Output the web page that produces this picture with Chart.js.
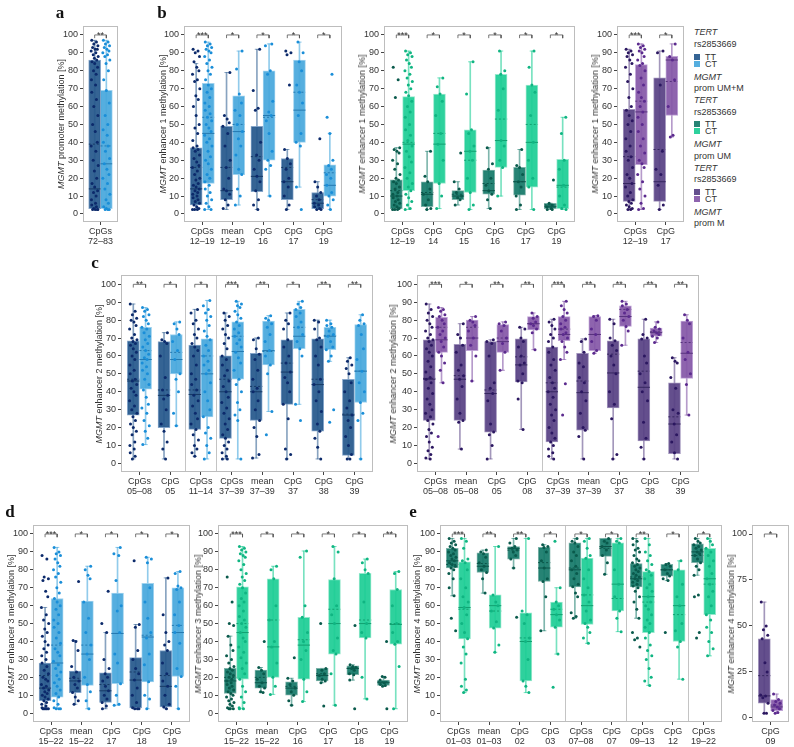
<!DOCTYPE html>
<html>
<head>
<meta charset="utf-8">
<script src="https://cdn.jsdelivr.net/npm/chart.js@4"></script>
<style>
body { margin: 0; background: #fff; font-family: "Liberation Sans", Arial, sans-serif; color: #333; }
#fig { position: relative; width: 794px; height: 747px; overflow: hidden; }
#fig canvas { position: absolute; }
.letter { position: absolute; font: bold 17px "Liberation Serif", serif; color: #111; transform: translate(-50%, -50%); }
.ytitle { position: absolute; font-size: 9px; white-space: nowrap; color: #333; transform: translate(-50%, -50%) rotate(-90deg); }
.leg { position: absolute; left: 694px; font-size: 9px; line-height: 12px; white-space: nowrap; color: #333; }
.sw { display: inline-block; width: 6px; height: 6px; margin-right: 5px; }
</style>
</head>
<body>
<div id="fig"></div>
<script>
// box rows are [min, q1, median, mean, q3, max]

//PANEL A
const aCats = [['CpGs', '72–83']];
const aStars = ['**'];
const aTT = [[2.5, 3, 14, 39, 86, 97]];
const aCT = [[2.5, 3, 28, 38, 69, 97]];
const aTTpts = [[97, 96, 95, 94, 93, 92, 92, 91, 90, 89, 88, 87, 86, 85, 84, 82, 80, 78, 75, 72, 68, 64, 60, 55, 50, 46, 40, 38, 35, 30, 27, 24, 20, 17, 15, 13, 12, 10, 8, 6, 5, 4, 3, 2.5, 2.5, 2.5, 2.5]];
const aCTpts = [[97, 96, 95, 94, 93, 92, 91, 90, 89, 88, 86, 84, 80, 75, 69, 62, 55, 50, 47, 44, 40, 38, 35, 31, 28, 25, 22, 20, 17, 14, 11, 8, 6, 4, 3, 2.5, 2.5, 2.5]];

//PANEL B1 (prom UM+M)
const b1Cats = [['CpGs', '12–19'], ['mean', '12–19'], ['CpG', '16'], ['CpG', '17'], ['CpG', '19']];
const b1Stars = ['***', '*', '*', '*', '*'];
const b1TT = [[2.5, 5, 14, 26, 37, 84], [2.5, 8, 13, 26, 49, 79], [2.5, 12.5, 21, 32, 49, 92], [2.5, 8, 18, 26, 31, 36], [2.5, 3, 6, 8, 12, 18]];
const b1CT = [[2.5, 17, 45, 54, 73, 96], [5, 22, 46, 50, 66, 91], [10, 30, 55, 54, 80, 95], [15, 40, 58, 68, 86, 96], [2.5, 10, 16, 23, 27.5, 45]];
const b1TTpts = [
  [92, 91, 90, 88, 85, 82, 80, 78, 75, 74, 70, 66, 64, 60, 55, 50, 48, 45, 41, 38, 37, 36, 35, 33, 31, 29, 27, 26, 24, 22, 20, 19, 17, 16, 15, 14, 13, 12, 11, 10, 9, 8, 7, 6, 5, 4, 3, 2.5, 2.5, 2.5],
  [79, 55, 53, 51, 49, 45, 38, 30, 26, 20, 14, 13, 11, 8, 5, 3],
  [92, 69, 59, 58, 40, 33, 30, 25, 21, 18, 13, 8, 5, 2.5],
  [91, 90, 89, 72, 36, 31, 28, 25, 20, 18, 15, 10, 5, 2.5],
  [42, 18, 15, 12, 10, 8, 6, 5, 4, 3, 2.5, 2.5]
];
const b1CTpts = [
  [96, 95, 94, 93, 92, 91, 90, 88, 86, 84, 82, 80, 78, 75, 72, 70, 68, 65, 62, 60, 58, 56, 54, 52, 50, 48, 46, 44, 42, 40, 38, 35, 32, 30, 28, 25, 22, 20, 18, 16, 14, 12, 10, 8, 6, 4, 2.5, 2.5],
  [91, 81, 67, 62, 58, 55, 50, 46, 42, 38, 33, 25, 22, 14, 10, 5],
  [95, 94, 80, 78, 63, 57, 55, 52, 45, 35, 30, 27, 25, 10],
  [96, 90, 85, 80, 72, 68, 62, 55, 45, 40, 38, 15, 2.5],
  [78, 54, 45, 30, 27, 25, 22, 20, 16, 12, 10, 8, 5, 2.5]
];

//PANEL B2 (prom UM)
const b2Cats = [['CpGs', '12–19'], ['CpG', '14'], ['CpG', '15'], ['CpG', '16'], ['CpG', '17'], ['CpG', '19']];
const b2Stars = ['***', '*', '*', '*', '*', '*'];
const b2TT = [[2.5, 3, 10, 13, 19, 37], [2.5, 4, 11, 12, 18, 35], [5, 8, 10, 11, 13, 18], [3, 11, 13, 17, 24.5, 37], [2.5, 10.5, 18, 18, 26, 36], [2.5, 3, 4, 5, 6, 6]];
const b2CT = [[2.5, 13, 39, 40, 65.5, 91], [3, 17, 39, 45, 67, 76], [2.5, 12, 35, 30, 47, 85], [10, 26, 41, 53, 78, 91], [2.5, 15, 40, 50, 72, 91], [2.5, 3, 16, 15, 30.5, 54]];
const b2TTpts = [
  [82, 75, 65, 37, 36, 35, 34, 30, 28, 25, 22, 20, 19, 18, 17, 15, 14, 12, 11, 10, 9, 8, 7, 6, 5, 4, 3, 2.5, 2.5, 2.5],
  [35, 21, 18, 14, 11, 8, 5, 3, 2.5],
  [34, 18, 14, 12, 10, 9, 8, 5],
  [37, 28, 25, 20, 16, 13, 11, 8, 3],
  [36, 27, 26, 22, 18, 15, 10, 5, 2.5],
  [19, 6, 5, 4, 3, 2.5, 2.5]
];
const b2CTpts = [
  [91, 90, 89, 88, 86, 84, 82, 80, 78, 76, 74, 72, 70, 68, 66, 63, 60, 57, 54, 50, 47, 44, 41, 38, 35, 32, 29, 26, 23, 20, 17, 15, 13, 11, 9, 7, 5, 3, 2.5],
  [76, 71, 67, 63, 55, 45, 39, 30, 17, 10, 3],
  [85, 67, 47, 45, 38, 35, 30, 20, 12, 5, 2.5],
  [91, 80, 78, 70, 58, 41, 38, 30, 26, 10],
  [91, 82, 72, 68, 55, 40, 30, 20, 15, 2.5],
  [54, 45, 30, 25, 16, 10, 5, 3, 2.5]
];

//PANEL B3 (prom M)
const b3Cats = [['CpGs', '12–19'], ['CpG', '17']];
const b3Stars = ['***', '*'];
const b3TT = [[2.5, 7, 17, 32, 58.5, 92], [2.5, 7, 18, 36, 76, 91]];
const b3CT = [[2.5, 27.5, 57, 63, 83.5, 95], [43, 55, 86, 74, 88, 95]];
const b3TTpts = [
  [92, 91, 90, 89, 88, 86, 84, 82, 78, 74, 70, 65, 60, 58, 55, 52, 50, 46, 42, 38, 35, 32, 30, 26, 22, 20, 17, 15, 12, 10, 8, 7, 6, 5, 4, 3, 2.5, 2.5],
  [91, 90, 72, 35, 25, 22, 16, 5, 2.5]
];
const b3CTpts = [
  [95, 94, 93, 92, 91, 90, 88, 86, 84, 83, 80, 76, 72, 68, 65, 63, 60, 57, 54, 50, 46, 42, 38, 34, 30, 28, 26, 22, 18, 14, 10, 6, 3, 2.5],
  [95, 88, 86, 75, 60, 44, 43]
];

//PANEL C LEFT
const cLCats = [['CpGs', '05–08'], ['CpG', '05'], ['CpGs', '11–14'], ['CpGs', '37–39'], ['mean', '37–39'], ['CpG', '37'], ['CpG', '38'], ['CpG', '39']];
const cLSeps = [2.5, 3.5];
const cLStars = ['**', '*', '*', '***', '**', '*', '**', '**'];
const cLTT = [[2.5, 27, 46, 47, 68.5, 89], [2.5, 20, 38, 41, 68, 73], [4, 19, 38.5, 41, 66, 86], [2.5, 14, 40, 47, 60, 84], [3, 24, 40, 43, 61.5, 70], [2.5, 33, 51, 56, 69, 84], [2.5, 18, 44, 47, 69.5, 80], [2.5, 4.5, 27, 27.5, 47, 59]];
const cLCT = [[10.5, 41.5, 58, 63, 76, 87], [21, 50, 58, 62, 72, 79], [2.5, 26, 50, 60, 69.5, 91], [2.5, 47, 62.5, 71, 79, 90.5], [29, 55, 63, 62.5, 79.5, 82.5], [33, 64, 71, 76, 86, 90.5], [57, 63.5, 71, 71.5, 76, 80], [2.5, 34, 51.5, 51.5, 77.5, 83]];
const cLTTpts = [
  [89, 85, 83, 81, 80, 79, 77, 75, 72, 70, 69, 68, 67, 66, 64, 62, 60, 58, 55, 52, 50, 47, 46, 44, 42, 40, 38, 35, 32, 30, 28, 26, 24, 22, 20, 18, 16, 12, 10, 8, 6, 4, 2.5],
  [73, 69, 68, 67, 60, 48, 41, 38, 36, 30, 22, 18, 12, 8, 2.5],
  [86, 84, 80, 78, 75, 72, 70, 67, 65, 63, 60, 55, 50, 47, 44, 41, 38, 35, 32, 28, 25, 22, 19, 16, 13, 10, 8, 6, 4],
  [84, 82, 80, 77, 75, 72, 70, 67, 64, 60, 58, 55, 52, 49, 46, 43, 40, 37, 34, 31, 28, 25, 22, 19, 16, 14, 12, 10, 8, 6, 4, 2.5, 2.5],
  [70, 69, 64, 61, 58, 52, 47, 42, 40, 35, 30, 24, 20, 15, 5, 3],
  [84, 80, 78, 75, 69, 65, 60, 56, 51, 48, 45, 40, 33, 25, 8, 5, 2.5],
  [80, 79, 75, 70, 69, 65, 60, 55, 47, 44, 40, 35, 29, 22, 18, 14, 9, 2.5],
  [59, 57, 55, 53, 50, 45, 40, 35, 31, 27, 24, 20, 15, 10, 5, 2.5, 2.5]
];
const cLCTpts = [
  [87, 86, 85, 83, 82, 80, 78, 76, 75, 73, 71, 69, 67, 65, 63, 61, 59, 58, 56, 54, 52, 50, 47, 44, 41, 37, 33, 31, 28, 24, 21, 18, 14, 10.5],
  [79, 78, 75, 72, 68, 63, 58, 50, 47, 40, 28, 21],
  [91, 88, 86, 84, 82, 80, 77, 74, 71, 69, 66, 63, 60, 57, 55, 52, 50, 45, 40, 35, 30, 26, 20, 17, 14, 10, 6, 2.5],
  [90.5, 89, 88, 87, 85, 83, 81, 79, 77, 75, 73, 71, 69, 67, 65, 62, 59, 56, 52, 47, 44, 40, 34, 30, 27, 24, 2.5],
  [82.5, 81, 80, 78, 76, 72, 68, 63, 60, 55, 50, 29, 16],
  [90.5, 89, 87, 86, 84, 82, 79, 76, 72, 68, 64, 60, 33, 24],
  [80, 78, 77, 76, 74, 72, 71, 68, 65, 63.5, 60, 57, 30, 23],
  [83, 80, 78, 77, 72, 64, 58, 51.5, 45, 40, 34, 28, 24, 2.5]
];

//PANEL C RIGHT
const cRCats = [['CpGs', '05–08'], ['mean', '05–08'], ['CpG', '05'], ['CpG', '08'], ['CpGs', '37–39'], ['mean', '37–39'], ['CpG', '37'], ['CpG', '38'], ['CpG', '39']];
const cRSeps = [4.5];
const cRStars = ['***', '*', '**', '**', '***', '**', '**', '**', '**'];
const cRTT = [[2.5, 24, 47, 47.5, 69, 89], [8, 24, 47, 49, 66.5, 78], [2.5, 17.5, 39, 41, 68, 69], [19, 45.5, 55, 59.5, 69.5, 76], [2.5, 12, 40, 45, 65, 80.5], [2.5, 18.5, 39.5, 46, 61.5, 69.5], [2.5, 31, 50.5, 61, 68.5, 80.5], [2.5, 12.5, 42.5, 51.5, 69.5, 80.5], [2.5, 5.5, 22, 26, 45, 59]];
const cRCT = [[45, 62, 69, 76, 81.5, 87], [46, 63, 70, 76, 80, 82], [52, 62, 68, 70, 77.5, 79], [63.5, 74.5, 78, 78, 82, 84], [58, 68.5, 72, 75, 82, 90.5], [61.5, 63, 72, 72, 82, 82.5], [66, 76.5, 82, 86, 88, 90.5], [67.5, 71, 73, 73.5, 75.5, 79], [27, 47.5, 61.5, 67.5, 79.5, 83]];
const cRTTpts = [
  [89, 86, 84, 82, 80, 78, 76, 74, 72, 70, 69, 68, 66, 64, 62, 60, 57, 54, 51, 48, 47, 45, 42, 39, 36, 33, 30, 28, 26, 24, 22, 19, 17, 15, 12, 9, 7, 5, 3, 2.5],
  [78, 72, 70, 66, 62, 55, 52, 49, 47, 43, 36, 28, 24, 23, 8],
  [69, 68, 67, 60, 45, 42, 39, 35, 22, 17.5, 16, 10, 2.5],
  [76, 75, 70, 68, 65, 60, 56, 55, 50, 46, 45, 36, 19],
  [80.5, 79, 77, 75, 72, 70, 68, 65, 62, 58, 55, 52, 48, 45, 42, 40, 37, 33, 30, 27, 24, 20, 17, 14, 12, 10, 8, 6, 4, 2.5],
  [69.5, 68, 62, 56, 54, 48, 45, 40, 35, 28, 20, 18.5, 15, 2.5],
  [80.5, 78, 70, 68.5, 66, 63, 60, 55, 50, 40, 33, 25, 5, 2.5],
  [80.5, 72, 70, 69.5, 60, 56, 50, 45, 40, 35, 23, 14, 9, 2.5],
  [59, 57, 56, 48, 42, 30, 28, 22, 16, 12, 6, 2.5]
];
const cRCTpts = [
  [87, 86, 85, 83, 82, 80, 78, 76, 74, 72, 70, 68, 65, 62, 60, 56, 52, 45, 15],
  [82, 80, 79, 77, 74, 70, 66, 60, 46],
  [79, 78, 77, 74, 70, 67, 62, 52],
  [84, 82, 81, 79, 78, 77, 75, 73, 63.5],
  [90.5, 88, 86, 84, 82, 80, 78, 76, 75, 73, 72, 70, 68, 65, 62, 58, 44.5, 27],
  [82.5, 82, 80, 75, 72, 68, 63, 61.5],
  [90.5, 89, 88, 86, 84, 82, 80, 76.5, 74, 66],
  [79, 76, 75, 74, 73, 72, 71, 70, 67.5],
  [83, 80, 78, 70, 62, 58, 50, 44, 27]
];

//PANEL D LEFT
const dLCats = [['CpGs', '15–22'], ['mean', '15–22'], ['CpG', '17'], ['CpG', '18'], ['CpG', '19']];
const dLStars = ['***', '*', '*', '*', '*'];
const dLTT = [[2.5, 7, 14, 21, 28, 59], [5, 11.5, 18, 19.5, 23.5, 40.5], [2.5, 6, 12.5, 16, 22.5, 45], [2.5, 3, 18.5, 23, 31, 49.5], [2.5, 3.5, 15, 21, 35, 75.5]];
const dLCT = [[2.5, 9, 28, 38, 64, 92.5], [2.5, 15.5, 33, 38, 62.5, 82], [4.5, 16.5, 44.5, 44.5, 67, 92.5], [2.5, 17.5, 42.5, 43.5, 72.5, 87], [2.5, 20.5, 45, 49, 70, 79]];
const dLTTpts = [
  [88, 86, 76, 75, 74, 68, 65, 59, 55, 52, 50, 47, 45, 43, 40, 38, 36, 34, 32, 30, 28, 26, 24, 22, 20, 19, 18, 16, 15, 14, 13, 12, 11, 10, 9, 8, 7, 6, 5, 4, 3, 2.5, 2.5, 2.5, 2.5, 2.5],
  [73.5, 40.5, 40, 35, 26, 23, 20, 18, 16, 14, 11.5, 9, 7, 5],
  [68, 50, 45, 30, 25, 22, 20, 18, 15, 12.5, 10, 8, 6, 4, 2.5],
  [85, 49.5, 48, 35, 30, 25, 22, 18.5, 14, 10, 6, 3, 2.5, 2.5, 2.5],
  [75.5, 55, 45, 40, 38, 35, 28, 22, 18, 15, 10, 5, 3.5, 2.5]
];
const dLCTpts = [
  [92.5, 90, 89, 88, 86, 84, 82, 80, 78, 76, 73, 70, 67, 64, 62, 60, 58, 55, 52, 50, 48, 45, 42, 39, 36, 34, 32, 29, 27, 25, 23, 21, 19, 17, 15, 13, 11, 9, 7, 5, 3, 2.5, 2.5, 2.5],
  [82, 80, 77, 75, 62, 53, 45, 38, 33, 30, 20, 16, 12, 7, 2.5],
  [92.5, 89, 88, 74, 60, 57, 45, 33, 28, 16.5, 10, 5, 4.5],
  [87, 86, 84, 70, 62, 53, 45, 42, 33, 27, 17.5, 10, 8, 2.5],
  [79, 78, 71, 70, 69, 62, 55, 49, 45, 39, 25, 20.5, 15, 2.5]
];

//PANEL D RIGHT
const dRCats = [['CpGs', '15–22'], ['mean', '15–22'], ['CpG', '16'], ['CpG', '17'], ['CpG', '18'], ['CpG', '19']];
const dRStars = ['***', '*', '*', '*', '*', '**'];
const dRTT = [[2.5, 11, 18, 20, 25, 43], [11.5, 14, 17, 20, 24, 25.5], [4.5, 10, 14, 15, 17.5, 19.5], [17, 18, 21, 22, 25, 25], [18.5, 21.5, 25, 25, 26.5, 27], [15, 15.5, 17, 17.5, 18.5, 20.5]];
const dRCT = [[2.5, 19, 45, 50, 70.5, 93], [10.5, 20, 37, 52, 75, 82], [6.5, 19, 38, 41, 53.5, 90.5], [4.5, 33, 50, 58, 74.5, 93], [8, 42, 50, 52, 78, 86], [2.5, 38.5, 49.5, 50, 69, 79]];
const dRTTpts = [
  [76, 62, 50, 49, 43, 38, 35, 32, 30, 28, 26, 25, 24, 23, 22, 21, 20, 19, 18, 17, 16, 15, 14, 13, 12, 11, 10, 9, 8, 7, 6, 5, 4, 3, 2.5, 2.5, 2.5],
  [40, 25.5, 24, 22, 19, 17, 15, 14, 12, 11.5],
  [31, 19.5, 18, 16, 14, 12, 10, 7, 4.5],
  [50, 25, 24, 22, 21, 19, 18, 17, 4],
  [49, 27, 26, 25.5, 25, 24, 22, 21.5, 18.5, 2.5],
  [40, 20.5, 20, 18.5, 17, 16, 15.5, 15, 2.5]
];
const dRCTpts = [
  [93, 92, 91, 90, 89, 88, 87, 85, 83, 80, 78, 76, 74, 72, 70, 67, 64, 62, 60, 57, 54, 52, 50, 48, 45, 42, 40, 37, 34, 31, 28, 25, 22, 19, 15, 12, 9, 6, 3, 2.5, 2.5],
  [82, 80, 75, 60, 52, 40, 37, 28, 20, 15, 10.5],
  [90.5, 87, 60, 53.5, 45, 40, 35, 30, 19, 12, 6.5],
  [93, 90, 75, 60, 55, 50, 42, 35, 33, 22, 4.5],
  [86, 84, 80, 78, 62, 50, 45, 42, 20, 8],
  [79, 78, 69, 60, 50, 45, 40, 38.5, 26, 2.5]
];

//PANEL E LEFT
const eLCats = [['CpGs', '01–03'], ['mean', '01–03'], ['CpG', '02'], ['CpG', '03'], ['CpGs', '07–08'], ['CpG', '07'], ['CpGs', '09–13'], ['CpG', '12'], ['CpGs', '19–22']];
const eLSeps = [4.5, 6.5, 8.5];
const eLStars = ['***', '**', '**', '*', '*', '*', '**', '*', '*'];
const eLTT = [[65.5, 81, 85, 83, 92, 97.5], [67, 78.5, 82, 83.5, 89.5, 91], [81, 86, 92, 91, 93, 97.5], [46, 73.5, 81, 84, 92.5, 94], [53, 70.5, 80, 81, 95, 97.5], [77.5, 87.5, 93, 92, 97.5, 97.5], [53, 70.5, 75, 76, 83.5, 97.5], [74, 76.5, 80, 80, 83, 83.5], [77, 84, 90, 88, 94.5, 97.5]];
const eLCT = [[11.5, 41.5, 59, 58, 84.5, 97.5], [34, 47.5, 60, 57, 66, 93], [11.5, 18, 40, 42, 56, 97.5], [33, 48, 55, 58, 62, 70], [39, 49.5, 60, 66, 86.5, 97.5], [45.5, 57, 72, 64, 95, 97.5], [15.5, 45, 65, 62, 79, 97.5], [19, 40, 60, 55, 80, 85], [32, 55, 75, 72, 92, 97.5]];
const eLTTpts = [
  [97.5, 96, 95, 94, 93, 92, 91, 90, 89, 88, 87, 86, 85, 84, 83, 82, 81, 80, 78, 75, 70, 65.5, 53, 46],
  [91, 90, 89, 87, 84, 82, 80, 78.5, 75, 67],
  [97.5, 95, 93, 92, 91, 90, 88, 86, 81, 53.5],
  [94, 93, 92.5, 90, 85, 81, 75, 73.5, 65, 46],
  [97.5, 96, 95, 93, 90, 88, 85, 82, 80, 78, 75, 72, 70.5, 67, 65, 56, 54, 53],
  [97.5, 96, 95, 93, 91, 88, 84, 77.5],
  [97.5, 96, 94, 92, 91, 90, 88, 86, 85, 84, 83, 82, 81, 80, 79, 78, 77, 76, 75, 74, 73, 72, 71, 70, 68, 65, 62, 58, 53, 45, 42, 41, 37],
  [83.5, 83, 82, 80, 78, 76.5, 75, 74, 45],
  [97.5, 96, 95, 94, 93, 92, 91, 90, 89, 88, 86, 84, 82, 80, 77, 66, 65, 45, 42]
];
const eLCTpts = [
  [97.5, 96, 92, 86, 85, 84, 80, 75, 70, 65, 62, 59, 55, 50, 45, 41.5, 37, 33, 28, 19, 15, 13, 11.5],
  [93, 66, 62, 60, 57, 51, 47.5, 38, 34],
  [97.5, 57, 55, 50, 42, 40, 30, 18, 15, 11.5],
  [96, 70, 62, 60, 58, 55, 52, 48, 33, 14.5],
  [97.5, 96, 92, 88, 86.5, 80, 75, 70, 66, 62, 57, 52, 50, 48, 45, 42, 39],
  [97.5, 96, 95, 80, 72, 65, 57, 53, 45.5],
  [97.5, 94, 90, 88, 85, 83, 80, 79, 77, 75, 72, 70, 68, 65, 62, 60, 58, 55, 52, 50, 48, 45, 42, 38, 35, 32, 30, 25, 20, 18, 15.5],
  [85, 80, 72, 65, 60, 50, 46, 40, 37, 19],
  [97.5, 96, 94, 92, 90, 88, 85, 82, 78, 75, 72, 68, 65, 60, 55, 52, 48, 45, 40, 36, 32]
];

//PANEL E RIGHT
const eRCats = [['CpG', '09']];
const eRStars = ['*'];
const eRTT = [[2.5, 8, 12, 23, 43, 63]];
const eRCT = [[2.5, 4, 6, 7, 10, 13]];
const eRTTpts = [[63, 50, 48, 45, 43, 30, 25, 12.5, 12, 11, 8, 2.5, 2.5]];
const eRCTpts = [[13, 10, 9, 8, 7, 6, 5, 4, 3, 2.5]];

const Y10 = [0, 10, 20, 30, 40, 50, 60, 70, 80, 90, 100];
const Y25 = [0, 25, 50, 75, 100];

//COLOURS
const PAL = {
  blue: {
    TT: { box: 'rgba(38,88,140,0.93)', edge: 'rgba(120,155,195,0.9)', wh: 'rgba(38,88,140,0.55)', line: '#173a66', pt: '#0c2a6b' },
    CT: { box: 'rgba(72,168,221,0.93)', edge: 'rgba(150,205,236,0.9)', wh: 'rgba(72,168,221,0.6)', line: '#2579b0', pt: '#1a8ed8' }
  },
  green: {
    TT: { box: 'rgba(22,122,105,0.93)', edge: 'rgba(110,170,158,0.9)', wh: 'rgba(22,122,105,0.55)', line: '#0c5449', pt: '#0a5a4c' },
    CT: { box: 'rgba(30,206,150,0.93)', edge: 'rgba(140,230,200,0.9)', wh: 'rgba(30,206,150,0.6)', line: '#11a070', pt: '#10b582' }
  },
  purple: {
    TT: { box: 'rgba(88,66,132,0.93)', edge: 'rgba(150,135,180,0.9)', wh: 'rgba(88,66,132,0.55)', line: '#35265f', pt: '#2b1760' },
    CT: { box: 'rgba(133,88,168,0.93)', edge: 'rgba(185,155,210,0.9)', wh: 'rgba(133,88,168,0.6)', line: '#57337d', pt: '#5b2a8e' }
  }
};
const FONT = '"Liberation Sans", Arial, sans-serif';
const JIT = [-0.1, 0.06, -0.03, 0.11, -0.07, 0.02, 0.09, -0.12, 0.04, -0.05, 0.12, -0.01, 0.07, -0.09, 0.0, 0.1, -0.04, 0.05, -0.11, 0.03];

let fig = document.getElementById('fig');

function addDiv(cls, x, y, html) {
  let d = document.createElement('div');
  d.className = cls;
  d.style.left = x + 'px';
  d.style.top = y + 'px';
  d.innerHTML = html;
  fig.appendChild(d);
}

//STARS ABOVE BRACKETS
const starPlugin = {
  id: 'stars',
  afterDatasetsDraw(chart, args, opts) {
    let ctx = chart.ctx;
    let x = chart.scales.x, y = chart.scales.y;
    ctx.save();
    ctx.font = '9px ' + FONT;
    ctx.fillStyle = '#333';
    ctx.textAlign = 'center';
    ctx.textBaseline = 'alphabetic';
    opts.labels.forEach((s, i) => {
      ctx.fillText(s, x.getPixelForValue(i + 1), y.getPixelForValue(opts.at));
    });
    ctx.restore();
  }
};

//PANEL FRAME
const framePlugin = {
  id: 'frame',
  afterDraw(chart) {
    let a = chart.chartArea;
    let ctx = chart.ctx;
    ctx.save();
    ctx.strokeStyle = '#bdbdbd';
    ctx.lineWidth = 1;
    ctx.strokeRect(a.left + 0.5, a.top + 0.5, a.right - a.left - 1, a.bottom - a.top - 1);
    ctx.restore();
  }
};

function boxPanel(p) {
  let n = p.cats.length;
  let unit = p.w / (n + 0.2);
  let boxW = Math.round(unit * 0.4);
  let yW = 30, xH = 26, padT = 10, padR = 4;
  let seps = p.seps || [];

  let cv = document.createElement('canvas');
  cv.width = p.w + yW + padR;
  cv.height = p.h + padT + xH;
  cv.style.left = (p.left - yW) + 'px';
  cv.style.top = (p.top - padT) + 'px';
  fig.appendChild(cv);

  let ds = [];
  [['TT', -0.2, p.tt, p.ttPts], ['CT', 0.2, p.ct, p.ctPts]].forEach(([g, dx, box, pts]) => {
    let c = p.pal[g];
    let xs = box.map((b, i) => i + 1 + dx);

    // whiskers
    ds.push({
      type: 'bar', order: 6, grouped: false, barThickness: 1, backgroundColor: c.wh,
      data: box.map((b, i) => ({ x: xs[i], y: [b[0], b[5]] }))
    });
    let caps = [];
    box.forEach((b, i) => {
      [b[0], b[5]].forEach(v => {
        caps.push({ x: xs[i] - 0.07, y: v }, { x: xs[i] + 0.07, y: v }, { x: xs[i], y: null });
      });
    });
    ds.push({ type: 'line', order: 5, data: caps, borderColor: c.wh, borderWidth: 1, pointRadius: 0, spanGaps: false });

    // boxes
    ds.push({
      type: 'bar', order: 4, grouped: false, barThickness: boxW, backgroundColor: c.box,
      borderColor: c.edge, borderWidth: 1, borderSkipped: false,
      data: box.map((b, i) => ({ x: xs[i], y: [b[1], b[4]] }))
    });

    // median (solid) and mean (dashed)
    let seg = k => box.flatMap((b, i) => [{ x: xs[i] - 0.2, y: b[k] }, { x: xs[i] + 0.2, y: b[k] }, { x: xs[i], y: null }]);
    ds.push({ type: 'line', order: 3, data: seg(2), borderColor: c.line, borderWidth: 1, pointRadius: 0, spanGaps: false });
    ds.push({ type: 'line', order: 3, data: seg(3), borderColor: c.line, borderWidth: 1, borderDash: [2, 2], pointRadius: 0, spanGaps: false });

    // jittered points
    ds.push({
      type: 'scatter', order: 2, pointRadius: 1.5, pointBorderWidth: 0, backgroundColor: c.pt,
      data: pts.flatMap((arr, i) => arr.map((v, k) => ({ x: xs[i] + JIT[(k + i * 3) % JIT.length], y: v })))
    });
  });

  // significance brackets
  let br = [];
  p.cats.forEach((c, i) => {
    br.push({ x: i + 0.8, y: 98.2 }, { x: i + 0.8, y: 100 }, { x: i + 1.2, y: 100 }, { x: i + 1.2, y: 98.2 }, { x: i + 1, y: null });
  });
  ds.push({ type: 'line', order: 1, data: br, borderColor: '#555', borderWidth: 0.8, pointRadius: 0, spanGaps: false });

  new Chart(cv, {
    type: 'scatter',
    data: { datasets: ds },
    plugins: [starPlugin, framePlugin],
    options: {
      responsive: false,
      animation: false,
      events: [],
      layout: { padding: { top: padT, right: padR, left: 0, bottom: 0 } },
      plugins: {
        legend: { display: false },
        tooltip: { enabled: false },
        stars: { labels: p.stars, at: 98.4 }
      },
      scales: {
        x: {
          type: 'linear', min: 0.4, max: n + 0.6, offset: false,
          afterBuildTicks: s => {
            s.ticks = p.cats.map((c, i) => ({ value: i + 1 }))
              .concat(seps.map(v => ({ value: v })))
              .sort((a, b) => a.value - b.value);
          },
          afterFit: s => { s.height = xH; },
          border: { display: false },
          grid: {
            offset: false, drawOnChartArea: true, tickLength: 3, lineWidth: 1,
            color: ctx => ctx.tick && !Number.isInteger(ctx.tick.value) ? '#c4c4c4' : 'rgba(0,0,0,0)',
            tickColor: ctx => ctx.tick && !Number.isInteger(ctx.tick.value) ? 'rgba(0,0,0,0)' : '#444'
          },
          ticks: {
            autoSkip: false, maxRotation: 0, minRotation: 0, padding: 1, color: '#333',
            font: { size: 9, family: FONT, lineHeight: 1.12 },
            callback: v => Number.isInteger(v) ? p.cats[v - 1] : ''
          }
        },
        y: {
          type: 'linear', min: p.y[0], max: p.y[1],
          afterBuildTicks: s => { s.ticks = p.yt.map(v => ({ value: v })); },
          afterFit: s => { s.width = yW; },
          border: { display: false },
          grid: { drawOnChartArea: false, tickLength: 3, tickColor: '#444' },
          ticks: { padding: 2, color: '#333', font: { size: 9, family: FONT }, callback: v => String(v) }
        }
      }
    }
  });

  addDiv('ytitle', p.tx, p.top + p.h / 2, '<i>MGMT</i> ' + p.title);
}

boxPanel({ left: 83, top: 26, w: 35, h: 196, cats: aCats, stars: aStars, tt: aTT, ct: aCT, ttPts: aTTpts, ctPts: aCTpts, pal: PAL.blue, y: [-4.5, 105], yt: Y10, tx: 61, title: 'promoter methylation [%]' });
boxPanel({ left: 184, top: 26, w: 158, h: 196, cats: b1Cats, stars: b1Stars, tt: b1TT, ct: b1CT, ttPts: b1TTpts, ctPts: b1CTpts, pal: PAL.blue, y: [-4.5, 105], yt: Y10, tx: 163, title: 'enhancer 1 methylation [%]' });
boxPanel({ left: 384, top: 26, w: 191, h: 196, cats: b2Cats, stars: b2Stars, tt: b2TT, ct: b2CT, ttPts: b2TTpts, ctPts: b2CTpts, pal: PAL.green, y: [-4.5, 105], yt: Y10, tx: 362, title: 'enhancer 1 methylation [%]' });
boxPanel({ left: 617, top: 26, w: 67, h: 196, cats: b3Cats, stars: b3Stars, tt: b3TT, ct: b3CT, ttPts: b3TTpts, ctPts: b3CTpts, pal: PAL.purple, y: [-4.5, 105], yt: Y10, tx: 595, title: 'enhancer 1 methylation [%]' });
boxPanel({ left: 121, top: 275, w: 252, h: 197, cats: cLCats, seps: cLSeps, stars: cLStars, tt: cLTT, ct: cLCT, ttPts: cLTTpts, ctPts: cLCTpts, pal: PAL.blue, y: [-4.8, 105.2], yt: Y10, tx: 99, title: 'enhancer 2 methylation [%]' });
boxPanel({ left: 417, top: 275, w: 282, h: 197, cats: cRCats, seps: cRSeps, stars: cRStars, tt: cRTT, ct: cRCT, ttPts: cRTTpts, ctPts: cRCTpts, pal: PAL.purple, y: [-4.8, 105.2], yt: Y10, tx: 393, title: 'enhancer 2 methylation [%]' });
boxPanel({ left: 33, top: 525, w: 157, h: 197, cats: dLCats, stars: dLStars, tt: dLTT, ct: dLCT, ttPts: dLTTpts, ctPts: dLCTpts, pal: PAL.blue, y: [-4.9, 105], yt: Y10, tx: 11, title: 'enhancer 3 methylation [%]' });
boxPanel({ left: 218, top: 525, w: 190, h: 197, cats: dRCats, stars: dRStars, tt: dRTT, ct: dRCT, ttPts: dRTTpts, ctPts: dRCTpts, pal: PAL.green, y: [-4.9, 105], yt: Y10, tx: 198, title: 'enhancer 3 methylation [%]' });
boxPanel({ left: 440, top: 525, w: 282, h: 197, cats: eLCats, seps: eLSeps, stars: eLStars, tt: eLTT, ct: eLCT, ttPts: eLTTpts, ctPts: eLCTpts, pal: PAL.green, y: [-4.9, 105], yt: Y10, tx: 417, title: 'enhancer 4 methylation [%]' });
boxPanel({ left: 752, top: 525, w: 37, h: 197, cats: eRCats, stars: eRStars, tt: eRTT, ct: eRCT, ttPts: eRTTpts, ctPts: eRCTpts, pal: PAL.purple, y: [-2.2, 104.9], yt: Y25, tx: 731, title: 'enhancer 4 methylation [%]' });

//PANEL LETTERS
addDiv('letter', 60, 13, 'a');
addDiv('letter', 162, 13, 'b');
addDiv('letter', 95, 263, 'c');
addDiv('letter', 10, 512, 'd');
addDiv('letter', 413, 512, 'e');

//LEGEND
let legRows = [
  ['<i>TERT</i>', 32], ['rs2853669', 44], [null, 57, PAL.blue.TT.box, 'TT'], [null, 64, PAL.blue.CT.box, 'CT'],
  ['<i>MGMT</i>', 77], ['prom UM+M', 88],
  ['<i>TERT</i>', 100], ['rs2853669', 112], [null, 124, PAL.green.TT.box, 'TT'], [null, 131, PAL.green.CT.box, 'CT'],
  ['<i>MGMT</i>', 144], ['prom UM', 156],
  ['<i>TERT</i>', 168], ['rs2853669', 179], [null, 192, PAL.purple.TT.box, 'TT'], [null, 199, PAL.purple.CT.box, 'CT'],
  ['<i>MGMT</i>', 212], ['prom M', 223]
];
legRows.forEach(r => {
  let d = document.createElement('div');
  d.className = 'leg';
  d.style.top = (r[1] - 6) + 'px';
  d.innerHTML = r[0] !== null ? r[0] : '<span class="sw" style="background:' + r[2] + '"></span>' + r[3];
  fig.appendChild(d);
});
</script>
</body>
</html>
